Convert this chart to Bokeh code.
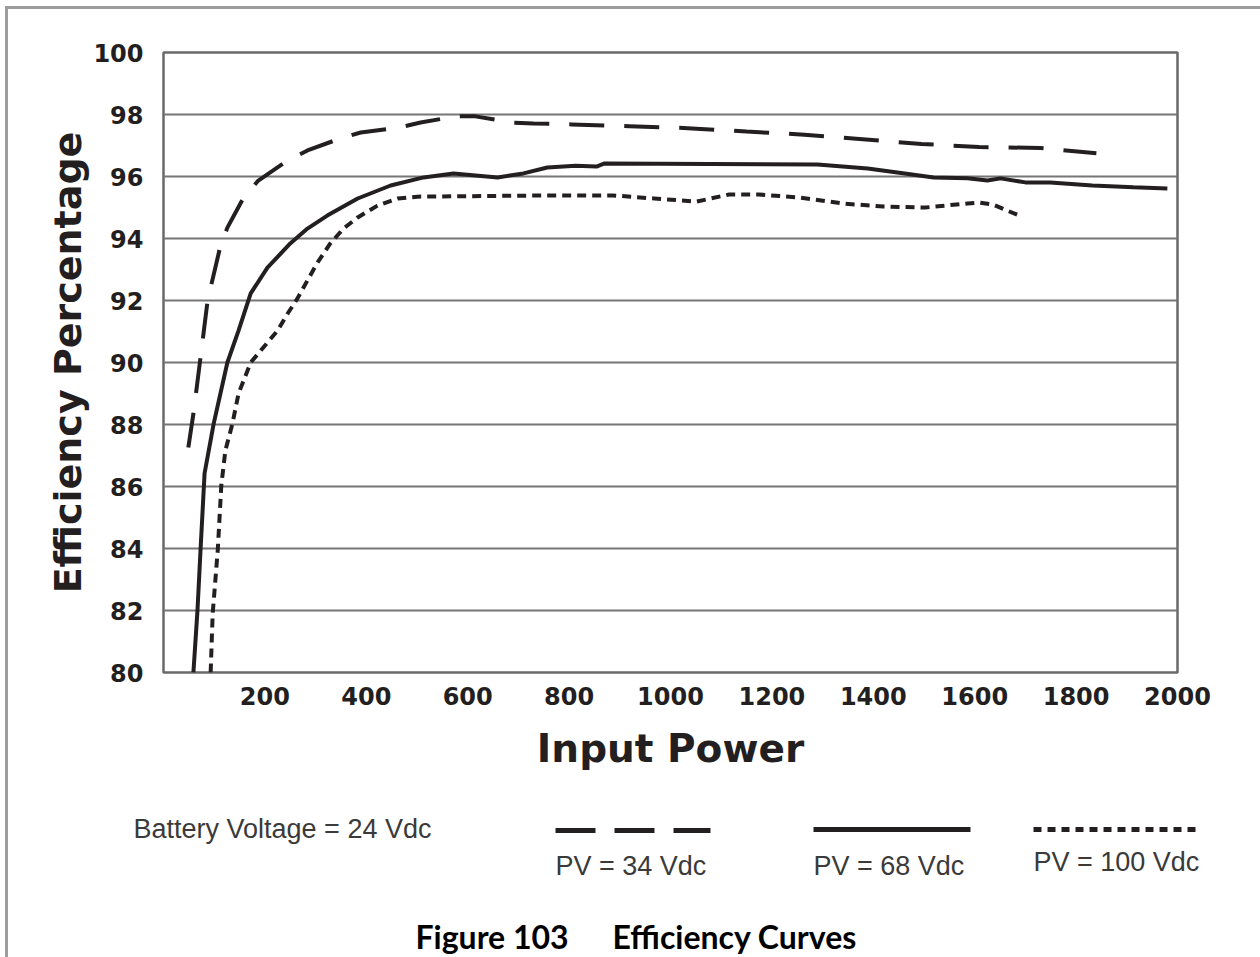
from bokeh.plotting import figure
from bokeh.layouts import column
from bokeh.models import FixedTicker, Label, Range1d
from bokeh.embed import file_html
from bokeh.resources import INLINE

# ---- data ----
pv34_x = [49, 59, 73, 87, 112, 126, 158, 187, 245, 284, 349, 389, 464, 507, 576, 615,
          688, 730, 805, 919, 1034, 1150, 1264, 1379, 1495, 1609, 1730, 1840]
pv34_y = [87.26, 88.35, 90.16, 92.0, 93.74, 94.35, 95.32, 95.87, 96.52, 96.84, 97.23, 97.42,
          97.58, 97.74, 97.94, 97.94, 97.74, 97.71, 97.68, 97.62, 97.56, 97.45, 97.35, 97.2,
          97.05, 96.95, 96.92, 96.75]

pv68_x = [59, 67, 73, 81, 99, 126, 148, 172, 205, 250, 284, 323, 383, 448, 513, 572, 659,
          710, 757, 813, 854, 870, 1290, 1389, 1462, 1519, 1586, 1625, 1651, 1700, 1749,
          1832, 1913, 1980]
pv68_y = [80.0, 82.0, 83.94, 86.42, 88.03, 90.0, 91.03, 92.23, 93.06, 93.84, 94.32, 94.74,
          95.29, 95.71, 95.97, 96.1, 95.97, 96.1, 96.29, 96.35, 96.32, 96.42, 96.39, 96.26,
          96.1, 95.97, 95.94, 95.87, 95.94, 95.81, 95.81, 95.71, 95.65, 95.61]

pv100_x = [93, 97, 107, 114, 122, 136, 148, 172, 225, 245, 264, 284, 304, 329, 355, 383,
           422, 462, 501, 763, 886, 968, 1051, 1116, 1174, 1256, 1339, 1420, 1503, 1586,
           1609, 1635, 1692]
pv100_y = [80.0, 81.9, 83.94, 86.03, 87.16, 88.03, 89.0, 90.0, 91.03, 91.58, 92.06, 92.65,
           93.23, 93.84, 94.32, 94.68, 95.06, 95.29, 95.35, 95.39, 95.39, 95.29, 95.19, 95.42,
           95.42, 95.32, 95.13, 95.03, 95.0, 95.13, 95.16, 95.1, 94.71]

x_ticks = [200, 400, 600, 800, 1000, 1200, 1400, 1600, 1800, 2000]
y_ticks = [80, 82, 84, 86, 88, 90, 92, 94, 96, 98, 100]

series_labels = ["PV = 34 Vdc", "PV = 68 Vdc", "PV = 100 Vdc"]
note_text = "Battery Voltage = 24 Vdc"
fig_no = "Figure 103"
fig_title = "Efficiency Curves"

INK = "#231f20"
GRID = "#767676"
BOLD_FONT = "DejaVu Sans"
W = 1252
FRAME_L, FRAME_R = 155, 1169   # canvas px of the chart frame

# ---- main chart ----
p = figure(width=W, height=781, output_backend="svg", toolbar_location=None,
           x_range=Range1d(0, 2000), y_range=Range1d(80, 100),
           min_border_left=FRAME_L, min_border_right=W - FRAME_R, min_border_top=43,
           min_border_bottom=118, frame_align=False,
           background_fill_color="white", border_fill_color="white")

p.outline_line_color = "#6a6a6a"
p.outline_line_width = 2.5
p.xgrid.grid_line_color = None
p.ygrid.grid_line_color = GRID
p.ygrid.grid_line_width = 2

for ax in (p.xaxis[0], p.yaxis[0]):
    ax.axis_line_color = None
    ax.major_tick_line_color = None
    ax.minor_tick_line_color = None
    ax.major_label_text_font = BOLD_FONT
    ax.major_label_text_font_style = "bold"
    ax.major_label_text_font_size = "24px"
    ax.major_label_text_color = INK
    ax.axis_label_text_font = BOLD_FONT
    ax.axis_label_text_font_style = "bold"
    ax.axis_label_text_color = INK

p.xaxis.ticker = FixedTicker(ticks=x_ticks)
p.yaxis.ticker = FixedTicker(ticks=y_ticks)
p.xaxis.major_label_standoff = 8
p.yaxis.major_label_standoff = 14
p.xaxis.axis_label = "Input Power"
p.yaxis.axis_label = "Efficiency Percentage"
p.xaxis.axis_label_text_font_size = "39px"
p.yaxis.axis_label_text_font_size = "38px"
p.xaxis.axis_label_standoff = 18
p.yaxis.axis_label_standoff = 0

p.line(pv34_x, pv34_y, line_color=INK, line_width=4, line_dash="35 20")
p.line(pv68_x, pv68_y, line_color=INK, line_width=4)
p.line(pv100_x, pv100_y, line_color=INK, line_width=4, line_dash="9 6")

# ---- key / caption panel below the chart (coordinates in its own canvas px) ----
q = figure(width=W, height=167, output_backend="svg", toolbar_location=None,
           x_range=Range1d(0, W), y_range=Range1d(167, 0),
           x_axis_type=None, y_axis_type=None, frame_align=False,
           min_border_left=0, min_border_right=0, min_border_top=0, min_border_bottom=0,
           background_fill_color="white", border_fill_color="white")
q.outline_line_color = None
q.xgrid.grid_line_color = None
q.ygrid.grid_line_color = None

key_x = [(547, 702), (805, 962), (1025, 1191)]
key_y = [40, 39, 39]
key_dash = ["40 19", "solid", "8 6"]
for (x0, x1), yy, dash in zip(key_x, key_y, key_dash):
    q.line([x0, x1], [yy, yy], line_color=INK, line_width=5, line_dash=dash)

TXT = "#3a3a3a"
q.add_layout(Label(x=125, y=38, text=note_text,
                   text_font="Liberation Sans", text_font_size="27px", text_color=TXT,
                   text_baseline="middle", text_align="left"))
for lab, (x0, _), yy in zip(series_labels, key_x, [75, 75, 71]):
    q.add_layout(Label(x=x0, y=yy, text=lab,
                       text_font="Liberation Sans", text_font_size="27px", text_color=TXT,
                       text_baseline="middle", text_align="left"))

q.add_layout(Label(x=407, y=146, text=fig_no,
                   text_font="Lato", text_font_style="bold", text_font_size="32px",
                   text_color="black", text_baseline="middle", text_align="left"))
q.add_layout(Label(x=604, y=146, text=fig_title,
                   text_font="Lato", text_font_style="bold", text_font_size="32px",
                   text_color="black", text_baseline="middle", text_align="left"))

layout = column(p, q, spacing=0,
                styles={"margin-left": "5px", "margin-top": "6px",
                        "border-left": "3px solid #9c9c9c", "border-top": "3px solid #9c9c9c"})

open("out.html", "w").write(file_html(layout, INLINE))
